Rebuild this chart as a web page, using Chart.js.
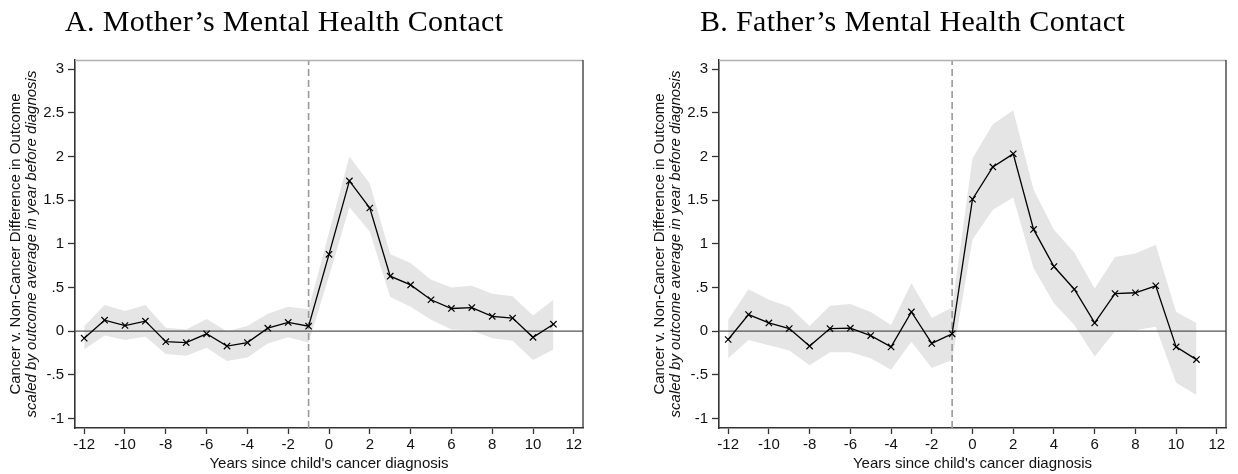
<!DOCTYPE html>
<html><head><meta charset="utf-8">
<script src="https://cdn.jsdelivr.net/npm/chart.js@4.4.1/dist/chart.umd.min.js"></script>
<style>
html,body{margin:0;padding:0;background:#fff;}
#wrap{position:relative;width:1238px;height:474px;overflow:hidden;background:#fff;}
.pane{position:absolute;top:0;width:619px;height:474px;}
</style></head><body>
<div id="wrap">
<div class="pane" style="left:0"><canvas id="c1" width="619" height="474"></canvas></div>
<div class="pane" style="left:619px"><canvas id="c2" width="619" height="474"></canvas></div>
</div>
<script>
// ---- data ----
const years = [-12,-11,-10,-9,-8,-7,-6,-5,-4,-3,-2,-1,0,1,2,3,4,5,6,7,8,9,10,11];

const motherEst = [-0.08,0.126,0.065,0.115,-0.12,-0.13,-0.03,-0.17,-0.13,0.035,0.10,0.057,0.88,1.72,1.41,0.63,0.53,0.36,0.26,0.27,0.17,0.15,-0.07,0.08];
const motherHi  = [0.057,0.30,0.23,0.30,0.04,0.02,0.14,0.0,0.06,0.20,0.28,0.25,1.13,2.0,1.69,0.88,0.78,0.59,0.50,0.52,0.43,0.40,0.18,0.36];
const motherLo  = [-0.21,-0.05,-0.10,-0.06,-0.26,-0.28,-0.19,-0.34,-0.30,-0.14,-0.07,-0.13,0.63,1.42,1.14,0.39,0.28,0.13,0.02,0.01,-0.08,-0.11,-0.33,-0.21];

const fatherEst = [-0.095,0.19,0.095,0.03,-0.17,0.03,0.035,-0.05,-0.18,0.22,-0.14,-0.03,1.51,1.88,2.03,1.165,0.74,0.48,0.095,0.43,0.44,0.52,-0.18,-0.325];
const fatherHi  = [0.13,0.48,0.36,0.28,0.06,0.29,0.31,0.22,0.07,0.55,0.15,0.27,1.98,2.37,2.53,1.62,1.16,0.90,0.49,0.85,0.89,0.99,0.22,0.095];
const fatherLo  = [-0.31,-0.10,-0.16,-0.22,-0.39,-0.24,-0.24,-0.31,-0.44,-0.12,-0.42,-0.33,1.05,1.39,1.53,0.72,0.32,0.07,-0.29,0.0,0.01,0.05,-0.59,-0.73];

const xTicks = [-12,-10,-8,-6,-4,-2,0,2,4,6,8,10,12];
const xTickLabels = ['-12','-10','-8','-6','-4','-2','0','2','4','6','8','10','12'];
const yTicks = [-1,-0.5,0,0.5,1,1.5,2,2.5,3];
const yTickLabels = ['-1','-.5','0','.5','1','1.5','2','2.5','3'];

const titleA = 'A. Mother\u2019s Mental Health Contact';
const titleB = 'B. Father\u2019s Mental Health Contact';
const xTitle = "Years since child's cancer diagnosis";
const yTitle1 = 'Cancer v. Non-Cancer Difference in Outcome';
const yTitle2 = 'scaled by outcome average in year before diagnosis';
const diagLine = -1;

// ---- config ----
const X_MIN = -12.45, X_MAX = 12.45, Y_MIN = -1.108, Y_MAX = 3.104;
const SANS = '"Liberation Sans", Arial, sans-serif';

const decor = {
  id: 'decor',
  afterDraw(chart, args, opts) {
    const {ctx, chartArea: a} = chart;
    ctx.save();
    ctx.lineWidth = 1.3;
    ctx.strokeStyle = '#b0b0b0';
    ctx.beginPath(); ctx.moveTo(a.left, a.top + 0.5); ctx.lineTo(a.right, a.top + 0.5); ctx.stroke();
    ctx.strokeStyle = '#333';
    ctx.beginPath(); ctx.moveTo(a.right, a.top); ctx.lineTo(a.right, a.bottom); ctx.stroke();
    // panel title
    ctx.fillStyle = '#000';
    ctx.font = '30px "Liberation Serif", "Times New Roman", serif';
    if ('letterSpacing' in ctx) ctx.letterSpacing = '0.35px';
    ctx.textAlign = 'left';
    ctx.textBaseline = 'alphabetic';
    ctx.fillText(opts.title, opts.titleX, 31);
    if ('letterSpacing' in ctx) ctx.letterSpacing = '0px';
    // y-axis label (two lines, second italic)
    const cy = (a.top + a.bottom) / 2;
    ctx.fillStyle = '#111';
    ctx.textAlign = 'center';
    ctx.save();
    ctx.translate(a.left - 55, cy);
    ctx.rotate(-Math.PI / 2);
    ctx.font = '15px ' + SANS;
    ctx.fillText(yTitle1, 0, 0);
    ctx.restore();
    ctx.save();
    ctx.translate(a.left - 39, cy);
    ctx.rotate(-Math.PI / 2);
    ctx.font = 'italic 15px ' + SANS;
    ctx.fillText(yTitle2, 0, 0);
    ctx.restore();
    ctx.restore();
  }
};

function makeChart(id, title, titleX, est, lo, hi, yAxisW, rightPad) {
  const pts = arr => years.map((x, i) => ({x: x, y: arr[i]}));
  return new Chart(document.getElementById(id), {
    type: 'line',
    data: {
      datasets: [
        { // estimates
          data: pts(est), borderColor: '#000', borderWidth: 1.3, tension: 0,
          pointStyle: 'crossRot', pointRadius: 4.5, pointBorderWidth: 1.2,
          pointBorderColor: '#000', pointBackgroundColor: '#000', fill: false
        },
        { // diagnosis dashed line
          data: [{x: diagLine, y: Y_MIN}, {x: diagLine, y: Y_MAX}],
          borderColor: '#9a9a9a', borderWidth: 1.6, borderDash: [7, 4],
          pointRadius: 0, fill: false
        },
        { // zero line
          data: [{x: X_MIN, y: 0}, {x: X_MAX, y: 0}],
          borderColor: '#555', borderWidth: 1.3, pointRadius: 0, fill: false
        },
        { // CI upper
          data: pts(hi), borderWidth: 0, borderColor: 'rgba(0,0,0,0)',
          pointRadius: 0, fill: false, tension: 0
        },
        { // CI lower
          data: pts(lo), borderWidth: 0, borderColor: 'rgba(0,0,0,0)',
          pointRadius: 0, fill: '-1', backgroundColor: '#e5e5e5', tension: 0
        }
      ]
    },
    options: {
      responsive: false, animation: false, devicePixelRatio: 1,
      layout: {padding: {left: 0, right: rightPad, top: 60, bottom: 0}},
      plugins: {
        legend: {display: false}, tooltip: {enabled: false},
        decor: {title: title, titleX: titleX}
      },
      scales: {
        x: {
          type: 'linear', min: X_MIN, max: X_MAX,
          afterBuildTicks: s => { s.ticks = xTicks.map(v => ({value: v})); },
          afterFit: s => { s.height = 46; },
          grid: {drawOnChartArea: false, drawTicks: true, tickLength: 6, tickWidth: 1.3, tickColor: '#333'},
          border: {display: true, color: '#333', width: 1.6},
          ticks: {
            autoSkip: false, maxRotation: 0, padding: 2, color: '#111',
            font: {family: SANS, size: 15},
            callback: v => xTickLabels[xTicks.indexOf(v)]
          },
          title: {display: true, text: xTitle, color: '#111', font: {family: SANS, size: 15}, padding: {top: 0, bottom: 1}}
        },
        y: {
          type: 'linear', min: Y_MIN, max: Y_MAX,
          afterBuildTicks: s => { s.ticks = yTicks.map(v => ({value: v})); },
          afterFit: s => { s.width = yAxisW; },
          grid: {drawOnChartArea: false, drawTicks: true, tickLength: 7, tickWidth: 1.3, tickColor: '#333'},
          border: {display: true, color: '#333', width: 1.6},
          ticks: {
            autoSkip: false, padding: 4, color: '#111',
            font: {family: SANS, size: 15},
            callback: v => yTickLabels[yTicks.indexOf(v)]
          }
        }
      }
    },
    plugins: [decor]
  });
}

makeChart('c1', titleA, 65, motherEst, motherLo, motherHi, 75, 36);
makeChart('c2', titleB, 81, fatherEst, fatherLo, fatherHi, 100, 12);
</script>
</body></html>
